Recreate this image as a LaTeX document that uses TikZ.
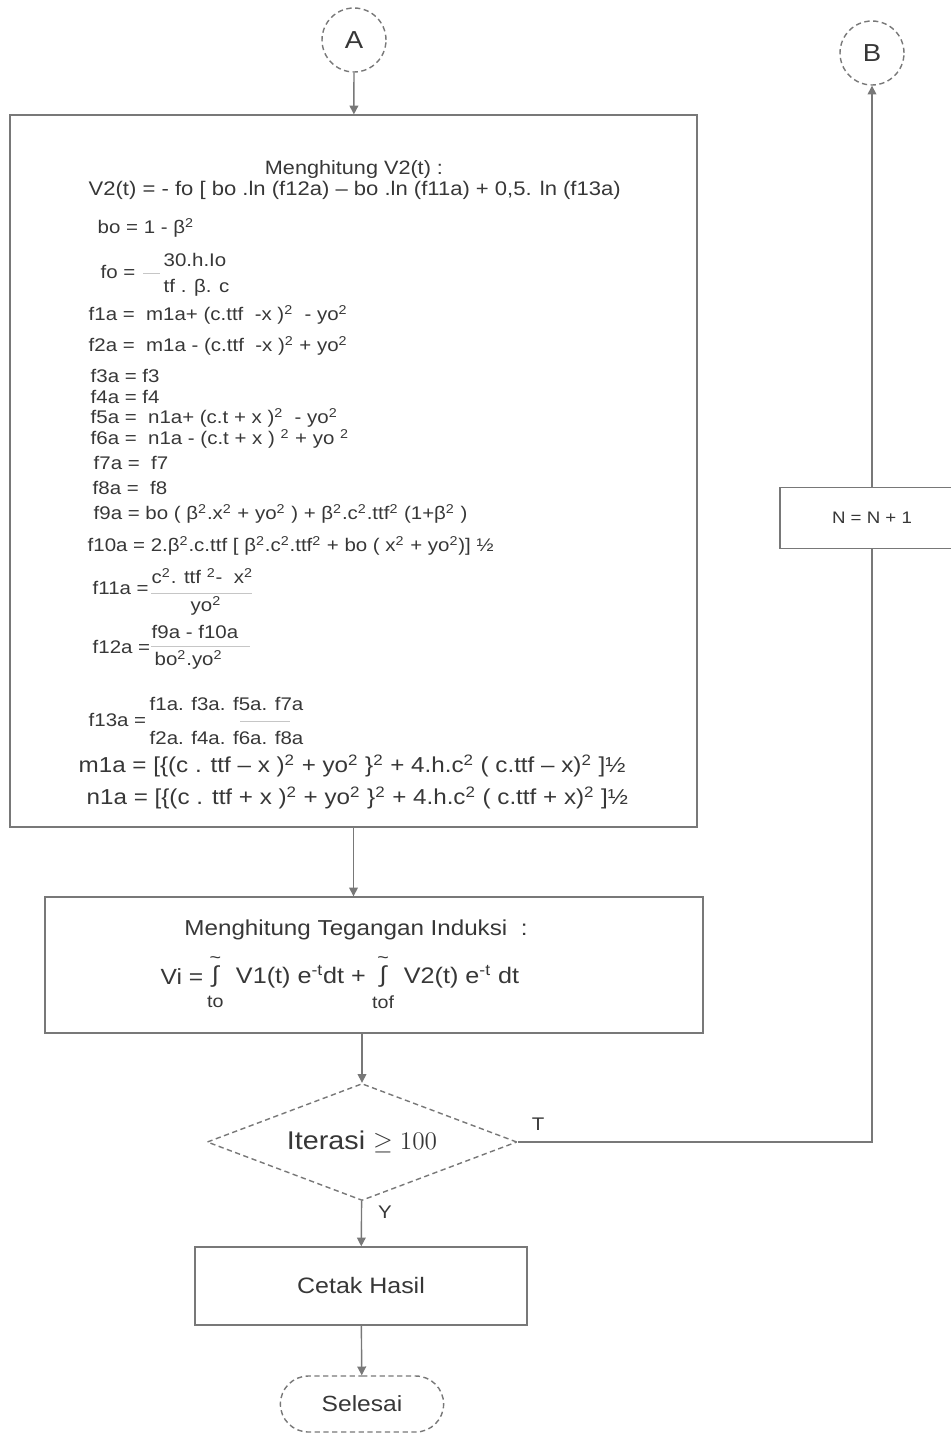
\documentclass[tikz,border=0pt]{standalone}
\usepackage[no-math]{fontspec}
\setmainfont[FakeStretch=1.12]{Liberation Sans}
\usepackage{tikz}
\usetikzlibrary{shapes.geometric, shapes.misc}
\usetikzlibrary{arrows.meta, positioning}
\definecolor{garis}{RGB}{120,120,120}
\definecolor{teks}{RGB}{55,55,55}
\newcommand{\kuad}{\textsuperscript{2}}

\begin{document}
\begin{tikzpicture}[x=0.02cm, y=-0.02cm, garis, line width=0.8pt,
    >={Triangle[width=5pt,length=5pt]},
    kotak/.style={draw, rectangle, inner sep=0pt, text=teks},
    sambung/.style={draw, circle, densely dashed, minimum size=1.28cm, text=teks, font=\fontsize{14}{16}\selectfont},
    rumus/.style={anchor=west, inner sep=0pt, text=teks, font=\fontsize{10.4}{12}\selectfont},
    batas/.style={inner sep=0pt, text=teks, font=\fontsize{10}{12}\selectfont},
    bagi/.style={gray!45, line width=0.5pt},
]
\useasboundingbox (0,0) rectangle (950,1433);

% Konektor
\node[sambung] (A) at (354,40) {A};
\node[sambung] (B) at (872,53) {B};

% Kotak V2(t)
\node[kotak, minimum width=13.74cm, minimum height=14.24cm] (hitungV) at (353.5,471) {};
\node[rumus, anchor=center, font=\fontsize{11}{13}\selectfont] (judulV) at (354,170) {Menghitung V2(t) :};
\node[rumus, font=\fontsize{11.2}{13}\selectfont] (rV2) at (88,190) {V2(t) = - fo [ bo .ln (f12a) – bo .ln (f11a) + 0,5. ln (f13a)};
\node[rumus] (rbo) at (97,228) {bo = 1 - β\kuad};
\node[rumus] (rfo) at (100,272) {fo =};
\node[rumus] (rfoA) at (163,260) {30.h.Io};
\node[rumus] (rfoB) at (163,288) {tf . β. c};
\draw[bagi] (143,273) -- (160,273);
\node[rumus] (rf1) at (88,315) {f1a = \ m1a+ (c.ttf \ -x )\kuad\ \ - yo\kuad};
\node[rumus] (rf2) at (88,346) {f2a = \ m1a - (c.ttf \ -x )\kuad\ + yo\kuad};
\node[rumus] (rf3) at (90,376) {f3a = f3};
\node[rumus] (rf4) at (90,397) {f4a = f4};
\node[rumus] (rf5) at (90,418) {f5a = \ n1a+ (c.t + x )\kuad\ \ - yo\kuad};
\node[rumus] (rf6) at (90,439) {f6a = \ n1a - (c.t + x ) \kuad\ + yo \kuad};
\node[rumus] (rf7) at (93,463) {f7a = \ f7};
\node[rumus] (rf8) at (92,488) {f8a = \ f8};
\node[rumus] (rf9) at (93,514) {f9a = bo ( β\kuad.x\kuad\ + yo\kuad\ ) + β\kuad.c\kuad.ttf\kuad\ (1+β\kuad\ )};
\node[rumus] (rf10) at (87,546) {f10a = 2.β\kuad.c.ttf [ β\kuad.c\kuad.ttf\kuad\ + bo ( x\kuad\ + yo\kuad)] ½};
\node[rumus] (rf11) at (92,588) {f11a =};
\node[rumus] (rf11A) at (151,576) {c\kuad. ttf \kuad- \ x\kuad};
\node[rumus] (rf11B) at (190,606) {yo\kuad};
\draw[bagi] (151,593) -- (252,593);
\node[rumus] (rf12) at (92,647) {f12a =};
\node[rumus] (rf12A) at (151,632) {f9a - f10a};
\node[rumus] (rf12B) at (154,660) {bo\kuad.yo\kuad};
\draw[bagi] (151,646) -- (250,646);
\node[rumus] (rf13) at (88,720) {f13a =};
\node[rumus] (rf13A) at (149,704) {f1a. f3a. f5a. f7a};
\node[rumus] (rf13B) at (149,738) {f2a. f4a. f6a. f8a};
\draw[bagi] (240,721) -- (290,721);
\node[rumus, font=\fontsize{12.3}{14}\selectfont] (rm1) at (78,766) {m1a = [\{(c . ttf – x )\kuad\ + yo\kuad\ \}\kuad\ + 4.h.c\kuad\ ( c.ttf – x)\kuad\ ]½};
\node[rumus, font=\fontsize{12.3}{14}\selectfont] (rn1) at (86,798) {n1a = [\{(c . ttf + x )\kuad\ + yo\kuad\ \}\kuad\ + 4.h.c\kuad\ ( c.ttf + x)\kuad\ ]½};

% Kotak tegangan induksi
\node[kotak, minimum width=13.16cm, minimum height=2.72cm] (induksi) at (374,965) {};
\node[rumus, anchor=center, font=\fontsize{12.3}{14}\selectfont] (judulVi) at (356,930) {Menghitung Tegangan Induksi \ :};
\node[rumus, font=\fontsize{12.5}{14}\selectfont] (vi) at (160,977) {Vi =};
\node[rumus, right=4pt of vi, font=\fontsize{13}{15}\selectfont] (int1) {∫};
\node[batas, above=1pt of int1] (atas1) {\char`\~};
\node[batas, below=4pt of int1] (bawah1) {to};
\node[rumus, right=9pt of int1, font=\fontsize{12.8}{14}\selectfont] (v1) {V1(t) e\textsuperscript{-t}dt +};
\node[rumus, right=7pt of v1, font=\fontsize{13}{15}\selectfont] (int2) {∫};
\node[batas, above=1pt of int2] (atas2) {\char`\~};
\node[batas, below=4pt of int2] (bawah2) {tof};
\node[rumus, right=9pt of int2, font=\fontsize{12.8}{14}\selectfont] (v2) {V2(t) e\textsuperscript{-t} dt};

% Keputusan
\node[diamond, draw, densely dashed, shape aspect=2.65, inner sep=0pt,
      minimum width=6.2cm, minimum height=2.34cm, text=teks,
      font=\fontsize{14.6}{17}\selectfont] (cek) at (362,1142) {Iterasi $\geq 100$};
\node[rumus, anchor=center] (labelT) at (538,1124) {T};
\node[rumus, anchor=center] (labelY) at (385,1212) {Y};

\node[kotak, minimum width=3.68cm, minimum height=1.22cm, font=\fontsize{9.5}{11}\selectfont] (tambah) at (872,518) {N = N + 1};

% Akhir
\node[kotak, minimum width=6.64cm, minimum height=1.56cm, font=\fontsize{12.7}{15}\selectfont] (cetak) at (361,1286) {Cetak Hasil};
\node[draw, rounded rectangle, densely dashed, minimum width=3.5cm, minimum height=1.12cm,
      text=teks, font=\fontsize{12.5}{15}\selectfont] (selesai) at (362,1404) {Selesai};

% Panah
\draw[->] (A) -- (hitungV);
\draw[->] (hitungV.south) -- (hitungV.south |- induksi.north);
\draw[->] (cek.north |- induksi.south) -- (cek.north);
\draw[->] (cek) -- (cetak);
\draw[->] (cetak) -- (selesai);
\draw (cek.east) -| (tambah.south);
\draw[->] (tambah) -- (B);

\end{tikzpicture}
\end{document}
